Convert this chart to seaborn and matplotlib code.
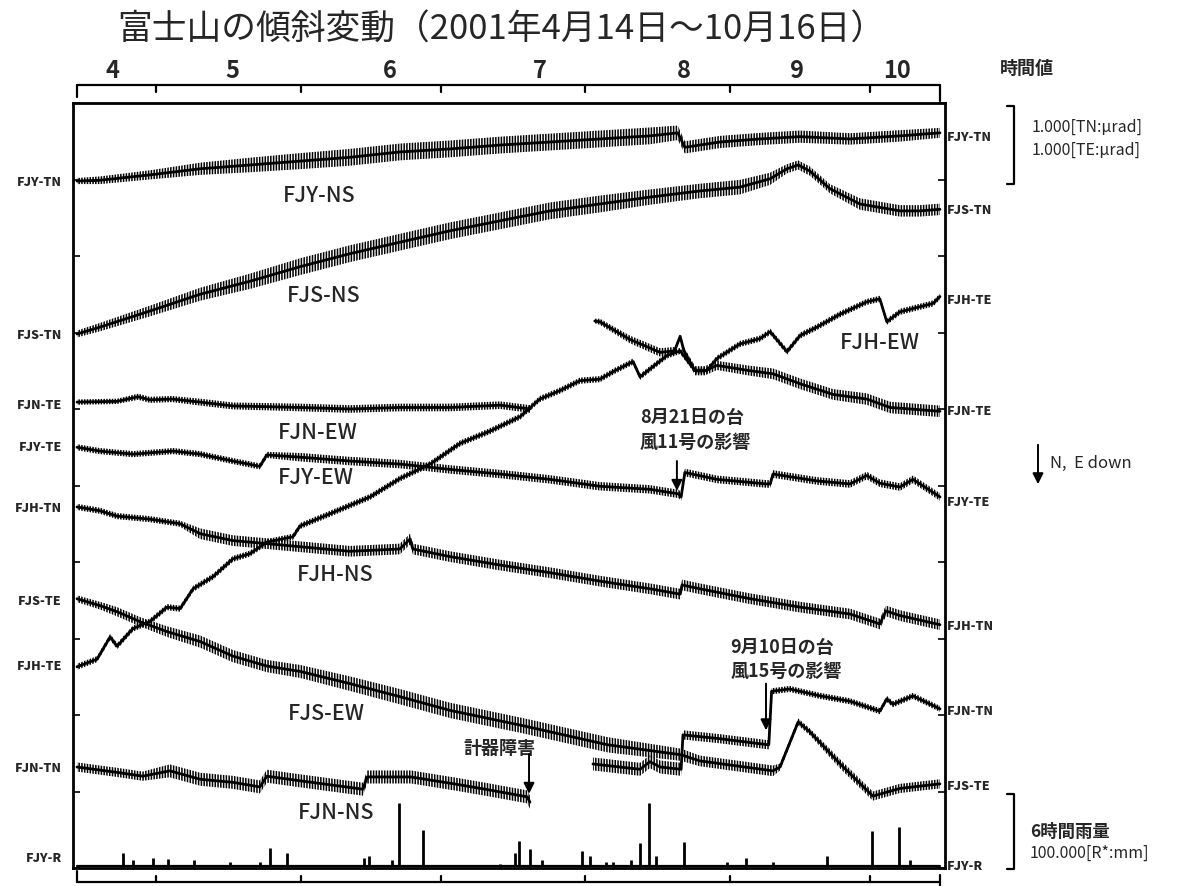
import numpy as np
import pandas as pd
import matplotlib
matplotlib.use("Agg")
import matplotlib.pyplot as plt
import seaborn as sns
from matplotlib import font_manager as fm
from matplotlib.lines import Line2D
import matplotlib.patches as mpatches
import matplotlib.transforms as mtransforms

# ---------------- data ----------------
title_text = "富士山の傾斜変動（2001年4月14日～10月16日）"
month_labels = ["4", "5", "6", "7", "8", "9", "10"]
month_label_days = [7.5, 33.4, 67.1, 99.2, 130.1, 154.3, 175.8]
month_start_days = [17, 48, 78, 109, 140, 170]
end_day = 185

# tilt traces: days since 2001-04-14, change in micro-radian from first point,
# ripple = peak-to-peak width of the daily (tidal) oscillation band
fjy_ns_days = [0, 4.9, 15.6, 26.4, 37.1, 47.8, 58.5, 69.2, 80.0, 90.7, 101.4, 112.1, 122.8,
               128.8, 130.3, 133.5, 137.8, 146.4, 155.0, 165.7, 176.4, 185]
fjy_ns_vals = [0, 0.01, 0.08, 0.16, 0.21, 0.26, 0.31, 0.38, 0.42, 0.47, 0.51, 0.55, 0.59,
               0.63, 0.44, 0.47, 0.51, 0.55, 0.58, 0.55, 0.59, 0.63]
fjy_ns_ripple = [0.08, 0.10, 0.12, 0.16, 0.19, 0.21, 0.22, 0.22, 0.22, 0.22, 0.22, 0.22, 0.22,
                 0.19, 0.16, 0.16, 0.16, 0.16, 0.16, 0.15, 0.15, 0.13]

fjs_ns_days = [0, 4.9, 15.6, 26.4, 37.1, 47.8, 58.5, 69.2, 80.0, 90.7, 101.4, 112.1, 122.8,
               133.5, 142.1, 148.6, 152.2, 154.6, 157.1, 161.4, 167.8, 176.4, 180.7, 185]
fjs_ns_vals = [0, 0.09, 0.30, 0.52, 0.69, 0.88, 1.05, 1.20, 1.35, 1.48, 1.61, 1.70, 1.79,
               1.87, 1.92, 2.03, 2.16, 2.21, 2.13, 1.90, 1.70, 1.61, 1.61, 1.63]
fjs_ns_ripple = [0.09, 0.11, 0.14, 0.17, 0.20, 0.22, 0.22, 0.22, 0.22, 0.22, 0.22, 0.22, 0.20,
                 0.19, 0.19, 0.16, 0.12, 0.12, 0.12, 0.12, 0.15, 0.15, 0.15, 0.15]

fjn_ew_days_a = [0, 8.6, 13.1, 15.6, 20.4, 26.4, 33.4, 47.8, 58.5, 69.2, 80.0, 90.7, 97.1]
fjn_ew_vals_a = [0, 0.01, 0.07, 0.03, 0.04, 0, -0.05, -0.07, -0.09, -0.07, -0.07, -0.04, -0.09]
fjn_ew_ripple_a = [0.07, 0.07, 0.08, 0.08, 0.08, 0.09, 0.09, 0.10, 0.10, 0.10, 0.10, 0.10, 0.10]
fjn_ew_days_b = [111.0, 112.1, 118.5, 125.0, 128.1, 129.3, 130.1, 132.5, 134.6, 137.2, 144.3,
                 149.2, 155.0, 162.1, 169.3, 174.3, 185]
fjn_ew_vals_b = [1.06, 1.05, 0.82, 0.65, 0.67, 0.86, 0.67, 0.41, 0.41, 0.48, 0.41,
                 0.37, 0.24, 0.10, 0.04, -0.07, -0.12]
fjn_ew_ripple_b = [0.06, 0.08, 0.10, 0.11, 0.10, 0.06, 0.10, 0.12, 0.12, 0.12, 0.13,
                   0.14, 0.14, 0.14, 0.15, 0.15, 0.15]

fjy_ew_days = [0, 4.9, 12.0, 20.6, 26.4, 33.4, 39.2, 40.7, 47.8, 58.5, 69.2, 80.0, 90.7, 101.4,
               112.1, 122.8, 129.0, 129.5, 130.3, 137.2, 147.9, 148.6, 149.2, 158.6, 165.7,
               169.3, 172.1, 176.4, 179.2, 185]
fjy_ew_vals = [0, -0.05, -0.09, -0.05, -0.09, -0.18, -0.25, -0.10, -0.13, -0.18, -0.22, -0.29,
               -0.35, -0.42, -0.51, -0.55, -0.61, -0.65, -0.33, -0.42, -0.48, -0.48, -0.35,
               -0.44, -0.48, -0.37, -0.47, -0.52, -0.42, -0.65]
fjy_ew_ripple = [0.08] * 8 + [0.11] * 10 + [0.10] * 12

fjh_ns_days = [0, 4.9, 8.6, 15.6, 22.1, 26.4, 33.4, 40.7, 47.8, 58.5, 69.2, 71.4, 72.0, 80.0,
               90.7, 101.4, 112.1, 122.8, 129.3, 129.7, 133.5, 144.3, 155.0, 165.7, 172.1,
               173.4, 176.4, 185]
fjh_ns_vals = [0, -0.05, -0.12, -0.16, -0.22, -0.35, -0.44, -0.48, -0.52, -0.58, -0.55, -0.42,
               -0.55, -0.65, -0.76, -0.86, -0.97, -1.07, -1.14, -1.02, -1.07, -1.20, -1.31,
               -1.40, -1.53, -1.36, -1.42, -1.54]
fjh_ns_ripple = [0.08] * 5 + [0.14] * 23

fjs_ew_days = [0, 4.9, 8.6, 13.5, 19.3, 26.4, 33.4, 40.7, 47.8, 58.5, 69.2, 80.0, 95.6, 113.8,
               129.5, 133.5, 149.2, 150.7, 154.6, 157.1, 163.6, 170.6, 176.4, 185]
fjs_ew_vals = [0, -0.09, -0.17, -0.30, -0.43, -0.56, -0.75, -0.88, -0.95, -1.11, -1.28, -1.46,
               -1.66, -1.91, -2.04, -2.12, -2.25, -2.20, -1.61, -1.74, -2.16, -2.58, -2.48, -2.42]
fjs_ew_ripple = [0.09, 0.10, 0.12, 0.12, 0.14, 0.16, 0.16, 0.16, 0.17, 0.19, 0.20, 0.20, 0.20,
                 0.20, 0.16, 0.14, 0.14, 0.09, 0.09, 0.09, 0.12, 0.12, 0.12, 0.12]

fjh_ew_days = [0, 4.3, 7.1, 8.6, 12.0, 15.6, 19.3, 22.1, 24.9, 29.2, 33.4, 37.1, 40.7, 46.3,
               47.8, 54.2, 62.8, 69.2, 75.7, 82.1, 88.5, 95.0, 99.2, 103.5, 107.8, 112.1, 115.3,
               119.2, 120.7, 126.5, 129.3, 132.5, 135.0, 137.2, 142.1, 146.4, 148.6, 152.2,
               155.0, 158.6, 163.6, 169.3, 172.1, 173.6, 176.4, 183.5, 185]
fjh_ew_vals = [0, 0.10, 0.39, 0.27, 0.50, 0.59, 0.78, 0.76, 1.02, 1.18, 1.41, 1.48, 1.63, 1.70,
               1.84, 2.00, 2.22, 2.46, 2.65, 2.92, 3.08, 3.27, 3.50, 3.61, 3.74, 3.76, 3.87,
               3.99, 3.79, 4.07, 4.13, 3.87, 3.87, 4.03, 4.22, 4.29, 4.38, 4.12, 4.33, 4.44,
               4.61, 4.77, 4.81, 4.51, 4.64, 4.75, 4.84]
fjh_ew_ripple = [0.08] * 47

fjn_ns_days_a = [0, 8.6, 14.1, 19.9, 26.4, 33.4, 39.2, 40.7, 47.8, 61.3, 62.2, 71.6, 80.8,
                 87.5, 96.5, 97.1]
fjn_ns_vals_a = [0, -0.07, -0.12, -0.05, -0.16, -0.20, -0.26, -0.12, -0.18, -0.29, -0.13,
                 -0.13, -0.22, -0.29, -0.39, -0.46]
fjn_ns_ripple_a = [0.12] * 3 + [0.17] * 13
fjn_ns_days_b = [110.6, 120.7, 122.8, 125.0, 129.5, 129.9, 137.8, 148.3, 148.9, 152.8, 159.3,
                 165.7, 172.1, 173.6, 174.9, 179.2, 185]
fjn_ns_vals_b = [0.04, -0.03, 0.07, 0, -0.03, 0.42, 0.37, 0.29, 0.99, 1.02, 0.93, 0.86, 0.73,
                 0.89, 0.82, 0.93, 0.76]
fjn_ns_ripple_b = [0.17] * 5 + [0.12] * 3 + [0.08] * 9

# 6-hour rainfall at FJY (mm)
rain_days = [9.9, 12.0, 16.3, 19.5, 25.1, 32.8, 39.2, 41.4, 45.0, 61.5, 62.6, 67.5, 69.0, 74.2,
             90.7, 93.9, 94.7, 97.1, 99.7, 108.3, 110.0, 113.4, 114.9, 118.8, 120.7, 122.6,
             124.1, 130.1, 139.3, 143.4, 149.2, 160.8, 170.4, 176.2, 178.6]
rain_mm = [17, 8, 10, 9, 8, 5, 5, 24, 17, 10, 13, 8, 82, 47, 3, 17, 33, 22, 8, 20, 13, 5, 5, 8,
           30, 82, 13, 31, 5, 10, 5, 13, 46, 51, 8]
rain_scale_mm = 100.0

# channel names
left_names = ["FJY-TN", "FJS-TN", "FJN-TE", "FJY-TE", "FJH-TN", "FJS-TE", "FJH-TE", "FJN-TN", "FJY-R"]
right_names = ["FJY-TN", "FJS-TN", "FJH-TE", "FJN-TE", "FJY-TE", "FJH-TN", "FJN-TN", "FJS-TE", "FJY-R"]
trace_labels = ["FJY-NS", "FJS-NS", "FJN-EW", "FJY-EW", "FJH-NS", "FJS-EW", "FJN-NS", "FJH-EW"]

# ---------------- layout (positions on the 0-10 chart scale) ----------------
offsets = {"FJY": 8.98, "FJS-N": 6.98, "FJN-E": 6.09, "FJY-E": 5.50, "FJH-N": 4.72,
           "FJS-E": 3.52, "FJH-E": 2.63, "FJN-N": 1.32, "R": 0.025}
left_label_y = [8.98, 6.98, 6.07, 5.52, 4.72, 3.50, 2.65, 1.32, 0.14]
right_label_y = [9.57, 8.61, 7.44, 5.99, 4.80, 3.18, 2.07, 1.08, 0.04]
trace_label_pos = [(44.2, 8.80), (45.0, 7.49), (43.1, 5.70), (43.1, 5.11), (47.2, 3.84),
                   (45.2, 2.03), (47.4, 0.73), (163.6, 6.88)]

# ---------------- style ----------------
sns.set_style("white")
JP = ["Noto Sans CJK JP", "DejaVu Sans"]
plt.rcParams["font.family"] = JP
plt.rcParams["hatch.linewidth"] = 1.1

W, H = 1182, 887
fig = plt.figure(figsize=(W / 100, H / 100), dpi=100)
fig.patch.set_facecolor("white")
ax = fig.add_axes([73 / W, (H - 869) / H, 872 / W, 765 / H])


def draw_trace(days, vals, ripple, offset):
    d = np.asarray(days, float)
    v = np.asarray(vals, float) + offset
    r = np.asarray(ripple, float)
    ax.fill_between(d, v - r / 2, v + r / 2, facecolor="none", edgecolor="black",
                    hatch="||||||", linewidth=0)
    df = pd.DataFrame({"day": d, "v": v})
    sns.lineplot(data=df, x="day", y="v", ax=ax, color="black", linewidth=2.0,
                 estimator=None, sort=False, legend=False)


draw_trace(fjy_ns_days, fjy_ns_vals, fjy_ns_ripple, offsets["FJY"])
draw_trace(fjs_ns_days, fjs_ns_vals, fjs_ns_ripple, offsets["FJS-N"])
draw_trace(fjn_ew_days_a, fjn_ew_vals_a, fjn_ew_ripple_a, offsets["FJN-E"])
draw_trace(fjn_ew_days_b, fjn_ew_vals_b, fjn_ew_ripple_b, offsets["FJN-E"])
draw_trace(fjy_ew_days, fjy_ew_vals, fjy_ew_ripple, offsets["FJY-E"])
draw_trace(fjh_ns_days, fjh_ns_vals, fjh_ns_ripple, offsets["FJH-N"])
draw_trace(fjs_ew_days, fjs_ew_vals, fjs_ew_ripple, offsets["FJS-E"])
draw_trace(fjh_ew_days, fjh_ew_vals, fjh_ew_ripple, offsets["FJH-E"])
draw_trace(fjn_ns_days_a, fjn_ns_vals_a, fjn_ns_ripple_a, offsets["FJN-N"])
draw_trace(fjn_ns_days_b, fjn_ns_vals_b, fjn_ns_ripple_b, offsets["FJN-N"])

# rainfall bars
rb = offsets["R"]
ax.vlines(rain_days, rb, rb + np.asarray(rain_mm) / rain_scale_mm, color="black", linewidth=2.0)
ax.plot([0, end_day], [rb, rb], color="black", linewidth=1.6)

ax.set_xlim(-0.857, 186.07)
ax.set_ylim(0, 10)
ax.set_xlabel("")
ax.set_ylabel("")
for s in ax.spines.values():
    s.set_linewidth(2.0)
    s.set_color("black")
ax.set_xticks([])
ax.set_yticks(np.arange(0, 11, 1))
ax.set_yticklabels([])
ax.tick_params(axis="y", direction="in", length=5, width=1.2, left=True, right=True, colors="black")

# trace labels
for lab, (dx, dy) in zip(trace_labels, trace_label_pos):
    ax.text(dx, dy, lab, fontsize=15.5, fontweight="medium", ha="left", va="center")

# channel names left / right
tl = mtransforms.blended_transform_factory(ax.transAxes, ax.transData)
for nm, yy in zip(left_names, left_label_y):
    ax.text(-0.0126, yy, nm, transform=tl, ha="right", va="center", fontsize=9,
            fontweight="heavy", clip_on=False)
for nm, yy in zip(right_names, right_label_y):
    ax.text(1.0023, yy, nm, transform=tl, ha="left", va="center", fontsize=9,
            fontweight="heavy", clip_on=False)

# top and bottom time scales
tb = mtransforms.blended_transform_factory(ax.transData, ax.transAxes)
ytop = 1.0235
ax.plot([0, end_day], [ytop, ytop], transform=tb, color="black", lw=1.6, clip_on=False)
ax.plot([0, 0], [ytop, 1.0078], transform=tb, color="black", lw=1.6, clip_on=False)
ax.plot([end_day, end_day], [ytop, 1.0026], transform=tb, color="black", lw=1.6, clip_on=False)
for md in month_start_days:
    ax.plot([md, md], [ytop, 1.0144], transform=tb, color="black", lw=1.6, clip_on=False)
for lab, ld in zip(month_labels, month_label_days):
    ax.text(ld, 1.043, lab, transform=tb, ha="center", va="center", fontsize=17,
            fontweight="bold", clip_on=False)
ybot = -0.0183
ax.plot([0, end_day], [ybot, ybot], transform=tb, color="black", lw=1.6, clip_on=False)
ax.plot([0, 0], [ybot, -0.0039], transform=tb, color="black", lw=1.6, clip_on=False)
ax.plot([end_day, end_day], [-0.0092, -0.0235], transform=tb, color="black", lw=1.6, clip_on=False)
for md in month_start_days:
    ax.plot([md, md], [ybot, -0.0105], transform=tb, color="black", lw=1.6, clip_on=False)

# annotations
arrow = dict(arrowstyle="-|>", color="black", lw=1.4, mutation_scale=16, shrinkA=0, shrinkB=0)
ax.text(120.7, 5.90, "8月21日の台", fontsize=13, fontweight="bold", ha="left", va="center")
ax.text(120.7, 5.57, "風11号の影響", fontsize=13, fontweight="bold", ha="left", va="center")
ax.annotate("", xy=(128.6, 4.93), xytext=(128.6, 5.32), arrowprops=arrow)
ax.text(140.0, 2.89, "9月10日の台", fontsize=13, fontweight="bold", ha="left", va="center")
ax.text(140.0, 2.58, "風15号の影響", fontsize=13, fontweight="bold", ha="left", va="center")
ax.annotate("", xy=(147.7, 1.80), xytext=(147.7, 2.41), arrowprops=arrow)
ax.text(90.5, 1.58, "計器障害", fontsize=13, fontweight="bold", ha="center", va="center")
ax.annotate("", xy=(96.9, 0.97), xytext=(96.9, 1.49), arrowprops=arrow)

# title
fig.text(117 / W, 1 - 30 / H, title_text, fontsize=25, ha="left", va="center")


# right-hand notes (figure coordinates)
def fig_line(xs, ys, lw=1.6):
    fig.add_artist(Line2D([x / W for x in xs], [1 - y / H for y in ys], color="black",
                          lw=lw, transform=fig.transFigure))


fig.text(1000 / W, 1 - 68 / H, "時間値", fontsize=13, fontweight="bold", ha="left", va="center")
fig_line([1007, 1014, 1014, 1007], [107, 107, 185, 185])
fig.text(1032 / W, 1 - 127 / H, "1.000[TN:μrad]", fontsize=11.5, ha="left", va="center")
fig.text(1032 / W, 1 - 150 / H, "1.000[TE:μrad]", fontsize=11.5, ha="left", va="center")

fig.add_artist(mpatches.FancyArrowPatch((1038 / W, 1 - 443 / H), (1038 / W, 1 - 488 / H),
                                        transform=fig.transFigure, arrowstyle="-|>",
                                        mutation_scale=16, color="black", lw=1.4))
fig.text(1050 / W, 1 - 463 / H, "N,  E down", fontsize=12, ha="left", va="center")

fig_line([1007, 1014, 1014, 1007], [795, 795, 870, 870])
fig.text(1030 / W, 1 - 832 / H, "6時間雨量", fontsize=12.5, fontweight="bold", ha="left", va="center")
fig.text(1030 / W, 1 - 853 / H, "100.000[R*:mm]", fontsize=11.5, ha="left", va="center")

fig.savefig("out.png", dpi=100, facecolor="white")
